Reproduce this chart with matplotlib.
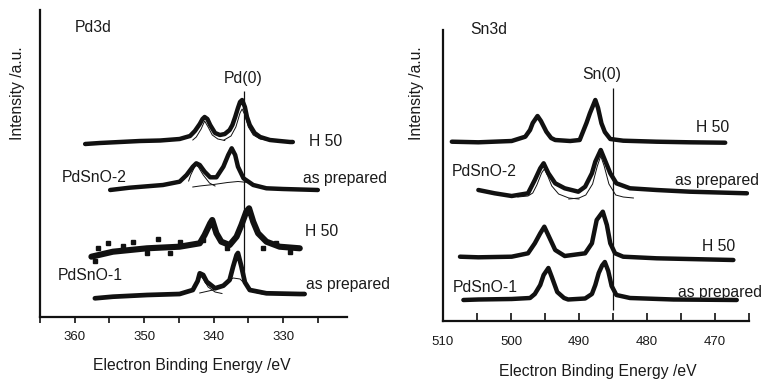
import matplotlib
matplotlib.use("Agg")
import matplotlib.pyplot as plt
from matplotlib.ticker import MultipleLocator

plt.rcParams['font.family'] = ['Liberation Sans', 'DejaVu Sans']

W, H = 764, 379

# ---------------- Pd3d (binding energy /eV, intensity incl. stacking offset) ----------------
pd2_h50_ev = [358.5, 356.4, 353.5, 350.6, 347.7, 344.9, 343.4, 342.7, 342.0, 341.6, 341.3, 340.9,
              340.5, 339.8, 339.1, 338.4, 337.7, 337.3, 336.9, 336.5, 336.2, 335.9, 335.5, 335.2,
              334.8, 334.1, 333.3, 331.9, 330.5, 329.0, 328.6]
pd2_h50_int = [173, 174, 175, 176, 176.5, 178, 181, 186, 193, 198, 200, 198,
               192, 184, 182, 183, 187, 192, 200, 209, 215, 217, 210, 200,
               192, 184, 180, 177, 176, 175, 175]

pd2_prep_ev = [354.9, 352.1, 347.3, 344.9, 343.9, 343.0, 342.5, 342.0, 341.3, 340.5, 339.6,
               338.6, 337.9, 337.4, 336.9, 336.5, 335.7, 334.3, 332.4, 330.0, 325.0]
pd2_prep_int = [127, 129.3, 132, 135.3, 142, 150.3, 153.7, 152, 145.3, 139.7, 139.7,
                150.3, 162, 168.7, 162, 150.3, 138.7, 132, 128.7, 128, 127]

pd1_h50_ev = [357.6, 354.5, 349.6, 344.9, 342.0, 341.3, 340.5, 340.2, 339.6, 338.9, 337.7,
              336.7, 336.0, 335.3, 334.9, 334.3, 333.6, 332.4, 330.5, 327.6]
pd1_h50_int = [60.3, 65.3, 68.7, 70.3, 73.7, 82, 93.7, 97, 83.7, 75.3, 72,
               80.3, 92, 105.3, 108.7, 95.3, 83.7, 75.3, 70.3, 68.7]
# scattered noisy points of the PdSnO-1 / H 50 spectrum
pd1_h50_noise_ev = [357.1, 356.6, 355.2, 353.0, 351.6, 349.6, 348.0, 346.3, 344.9, 341.5,
                    338.1, 332.9, 331.0, 329.0]
pd1_h50_noise_int = [56, 68.7, 74, 71, 75, 63.7, 78, 64.5, 75.3, 77,
                     68.7, 69.5, 74.5, 65.3]

pd1_prep_ev = [357.1, 354.5, 349.6, 344.9, 343.0, 342.3, 342.0, 341.5, 341.0, 339.8, 338.6,
               337.7, 337.2, 336.7, 336.5, 336.0, 335.5, 334.8, 332.4, 327.6, 326.9]
pd1_prep_int = [18.7, 20.3, 22, 23, 27, 36, 43.7, 42, 35.3, 28.7, 31.3,
                37, 50.3, 62, 64, 50.3, 34.7, 27, 23.7, 23, 23]

# fitted components (thin lines)
pd_fits = [
    ([343.0, 342.5, 341.8, 341.3, 340.8, 340.2, 339.4, 338.4],
     [177, 180, 188, 196, 190, 182, 178, 176.5]),
    ([338.5, 337.5, 336.8, 336.2, 335.9, 335.5, 335.0, 334.3, 333.3, 332.0],
     [177, 181, 190, 204, 208, 202, 190, 182, 178, 176.5]),
    ([343.0, 342.0, 340.0, 338.0, 336.5, 335.0, 333.5, 332.0],
     [130, 131, 132.5, 134.5, 135.5, 134.5, 131, 128.5]),
    ([343.6, 343.3, 342.6, 342.2, 341.5, 340.6, 339.8],
     [136, 142, 152, 150, 142, 134, 131]),
    ([342.0, 340.1, 338.5, 337.2, 336.2, 335.2, 334.4, 333.0],
     [24, 27, 33, 39, 38, 31, 25.3, 23]),
    ([343.0, 342.4, 342.0, 341.5, 340.8, 339.8, 338.8],
     [27, 35, 42, 38, 30, 25, 23.5]),
]
pd0_energy = 335.7
pd0_span = (42, 226)

# ---------------- Sn3d ----------------
sn2_h50_ev = [508.7, 504.8, 499.9, 497.9, 497.2, 496.8, 496.1, 495.6, 494.8, 494.1, 493.5, 491.3,
              489.9, 488.9, 488.4, 487.6, 487.2, 486.7, 486.2, 485.4, 483.5, 478.6, 473.7, 468.5]
sn2_h50_int = [179.3, 178.7, 180, 184.3, 191, 198, 205, 200, 189.3, 183, 181, 180,
               181, 198, 207.7, 221, 213, 197.7, 189, 182, 180.3, 179.3, 178.7, 178.3]

sn2_prep_ev = [504.8, 502.4, 499.9, 497.5, 496.5, 495.7, 495.2, 494.5, 493.5, 492.1, 490.1,
               489.1, 488.1, 487.6, 486.8, 486.2, 485.4, 484.5, 482.5, 478.6, 473.7, 465.3]
sn2_prep_int = [131, 127.7, 125, 127.7, 141, 152.7, 157.7, 147.7, 137.7, 132.7, 129.3,
                134.3, 147.7, 159.3, 171, 161, 147.7, 137.7, 132.7, 131, 129.3, 127.7]

sn1_h50_ev = [507.5, 504.8, 499.9, 497.5, 496.5, 495.7, 495.1, 494.3, 493.5, 492.1, 489.1,
              488.1, 487.4, 486.5, 485.9, 485.4, 484.7, 483.5, 478.6, 467.3]
sn1_h50_int = [64.3, 63.7, 64.3, 67.7, 77.7, 87.7, 94.3, 82.7, 71, 65, 67.7,
               77.7, 101, 109.3, 96, 77.7, 67.7, 64.3, 62.7, 61]

sn1_prep_ev = [507.0, 504.8, 499.9, 497.2, 496.5, 495.7, 495.2, 494.5, 494.0, 493.2, 492.2, 491.6,
               489.1, 488.1, 487.6, 487.1, 486.6, 486.2, 485.7, 485.2, 484.5, 482.5, 476.1, 466.8]
sn1_prep_int = [21, 21.5, 22, 23, 27, 36, 46, 53, 44, 29, 23, 21.5,
                22.5, 27, 36, 48, 55.5, 59, 50, 35, 26, 23, 21.5, 21]

sn_fits = [
    ([499.0, 497.5, 496.8, 496.2, 495.5, 495.1, 494.6, 494.0, 493.0, 491.5, 490.0],
     [124, 125, 128, 136, 148, 152, 145, 135, 127, 123, 122]),
    ([491.5, 490.0, 489.0, 488.0, 487.3, 486.8, 486.3, 485.6, 484.6, 483.5, 482.0],
     [122, 123, 126, 137, 155, 165, 155, 137, 126, 124, 123]),
]
sn0_energy = 485.0
sn0_span = (11, 233)

ink = '#111111'
fig = plt.figure(figsize=(W / 100, H / 100), dpi=100)


def ftext(px, py, s, **kw):
    kw.setdefault('fontsize', 11.3)
    kw.setdefault('color', '#1a1a1a')
    kw.setdefault('va', 'center')
    fig.text(px / W, 1 - py / H, s, **kw)


def style(ax, xlim, ylim, tickdir, ticklen, pad):
    ax.set_xlim(*xlim)
    ax.set_ylim(*ylim)
    for s in ['top', 'right']:
        ax.spines[s].set_visible(False)
    for s in ['left', 'bottom']:
        ax.spines[s].set_linewidth(1.6)
        ax.spines[s].set_color(ink)
    ax.set_yticks([])
    ax.xaxis.set_major_locator(MultipleLocator(10))
    ax.xaxis.set_minor_locator(MultipleLocator(5))
    ax.tick_params(axis='x', which='both', direction=tickdir, length=ticklen, width=1.2,
                   color=ink, labelsize=9.5, labelcolor='#1a1a1a', pad=pad)
    ax.patch.set_alpha(0)


# ---- left panel ----
ax1 = fig.add_axes([40 / W, (H - 317) / H, 307 / W, 307 / H])
style(ax1, (365, 320.8), (0, 307), 'out', 4, 6)
for ev, it, lw in [(pd2_h50_ev, pd2_h50_int, 3.2), (pd2_prep_ev, pd2_prep_int, 3.2),
                   (pd1_h50_ev, pd1_h50_int, 4.4), (pd1_prep_ev, pd1_prep_int, 3.4)]:
    ax1.plot(ev, it, color=ink, lw=lw, solid_joinstyle='round', solid_capstyle='round')
ax1.plot(pd1_h50_noise_ev, pd1_h50_noise_int, 's', color=ink, ms=2.2, ls='none')
for ev, it in pd_fits:
    ax1.plot(ev, it, color=ink, lw=0.7)
ax1.vlines(pd0_energy, *pd0_span, color=ink, lw=0.9)

# ---- right panel ----
ax2 = fig.add_axes([443 / W, (H - 321) / H, 306 / W, 291 / H])
style(ax2, (510, 465), (0, 291), 'in', 6, 11)
for ev, it in [(sn2_h50_ev, sn2_h50_int), (sn2_prep_ev, sn2_prep_int),
               (sn1_h50_ev, sn1_h50_int), (sn1_prep_ev, sn1_prep_int)]:
    ax2.plot(ev, it, color=ink, lw=3.2, solid_joinstyle='round', solid_capstyle='round')
for ev, it in sn_fits:
    ax2.plot(ev, it, color=ink, lw=0.7)
ax2.vlines(sn0_energy, *sn0_span, color=ink, lw=0.9)

# ---- texts ----
ftext(75, 27, 'Pd3d')
ftext(17.5, 93, 'Intensity /a.u.', rotation=90, ha='center')
ftext(243.5, 78.5, 'Pd(0)', ha='center')
ftext(309, 141.5, 'H 50')
ftext(62, 178, 'PdSnO-2')
ftext(303, 179, 'as prepared')
ftext(305, 231, 'H 50')
ftext(58, 275, 'PdSnO-1')
ftext(306, 284.5, 'as prepared')
ftext(192, 365.5, 'Electron Binding Energy /eV', ha='center')

ftext(470, 29, 'Sn3d')
ftext(416.7, 93, 'Intensity /a.u.', rotation=90, ha='center')
ftext(601.7, 74.5, 'Sn(0)', ha='center')
ftext(696, 128, 'H 50')
ftext(452, 171, 'PdSnO-2')
ftext(675, 180.5, 'as prepared')
ftext(702, 246, 'H 50')
ftext(453, 287, 'PdSnO-1')
ftext(678, 292.5, 'as prepared')
ftext(598, 371.5, 'Electron Binding Energy /eV', ha='center')

fig.savefig('out.png', dpi=100)
